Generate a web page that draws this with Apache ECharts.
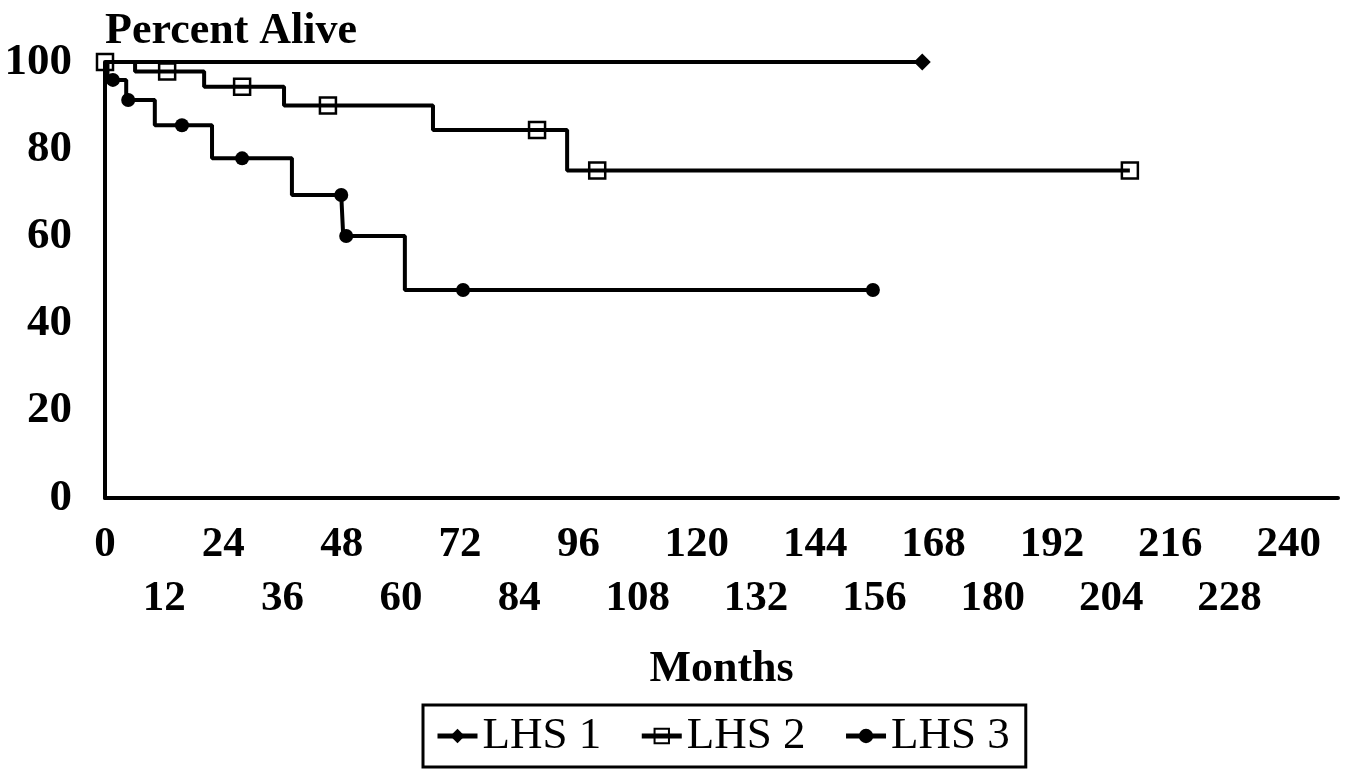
<!DOCTYPE html>
<html lang="en" style="height: 100%">
<head>
  <meta charset="utf-8">
</head>
<body style="height: 100%; margin: 0; background: #fff">
  <div id="container" style="width: 1347px; height: 771px"></div>

  <script type="text/javascript" src="https://fastly.jsdelivr.net/npm/echarts@6/dist/echarts.min.js"></script>
  <script type="text/javascript">
    var dom = document.getElementById('container');
    var myChart = echarts.init(dom, null, { renderer: 'canvas' });

    var seriesNames = ['LHS 1', 'LHS 2', 'LHS 3'];

    // [months, percent alive] at each event (drop)
    var lhs1Events = [[0, 100]];
    var lhs2Events = [[0, 100], [6.1, 97.8], [20.1, 94.3], [36.3, 90.0], [66.5, 84.4], [93.7, 75.1]];
    var lhs3Events = [[0, 100], [0.5, 95.9], [4.3, 91.3], [10.1, 85.5], [21.7, 77.9], [37.9, 69.5], [48.3, 60.1], [60.8, 47.7]];

    // censored observations (marked points)
    var lhs1Censored = [[165.7, 100]];
    var lhs2Censored = [[0, 100], [12.6, 97.8], [27.8, 94.3], [45.2, 90.0], [87.6, 84.4], [99.8, 75.1], [207.8, 75.1]];
    var lhs3Censored = [[1.6, 95.9], [4.7, 91.3], [15.6, 85.5], [27.8, 77.9], [47.9, 69.5], [48.9, 60.1], [72.6, 47.7], [155.7, 47.7]];

    var yTicks = [0, 20, 40, 60, 80, 100];

    var font = "'Liberation Serif', 'Times New Roman', serif";

    // merge events and censor marks into one step line; only censor marks get a symbol
    function buildData(events, censored) {
      var items = [];
      events.forEach(function (p) {
        items.push({ value: p, symbol: 'none', order: 0 });
      });
      censored.forEach(function (p) {
        items.push({ value: p, order: 1 });
      });
      items.sort(function (a, b) {
        return a.value[0] - b.value[0] || a.order - b.order;
      });
      return items.map(function (it) {
        var d = { value: it.value };
        if (it.symbol) d.symbol = it.symbol;
        return d;
      });
    }

    var lineStyle = { color: '#000', width: 4 };

    var option = {
      animation: false,
      backgroundColor: '#fff',
      legend: {
        left: 423,
        top: 705,
        orient: 'horizontal',
        padding: [6, 16, 6, 12],
        itemGap: 38,
        itemWidth: 40,
        itemHeight: 18,
        borderColor: '#000',
        borderWidth: 3,
        backgroundColor: '#fff',
        lineStyle: { width: 5 },
        textStyle: { fontFamily: font, fontSize: 45, color: '#000', lineHeight: 50 },
        data: seriesNames
      },
      grid: {
        left: 105,
        right: 9,
        top: 62,
        bottom: 273
      },
      xAxis: {
        type: 'value',
        min: 0,
        max: 250,
        interval: 12,
        name: 'Months',
        nameLocation: 'middle',
        nameGap: 172,
        nameTextStyle: {
          fontFamily: font, fontSize: 44, fontWeight: 'bold', color: '#000', verticalAlign: 'middle'
        },
        axisLine: { lineStyle: { color: '#000', width: 4 } },
        axisTick: { show: false },
        splitLine: { show: false },
        axisLabel: {
          margin: 20,
          fontFamily: font,
          fontSize: 43,
          fontWeight: 'bold',
          color: '#000',
          lineHeight: 54,
          formatter: function (v) {
            if (v % 24 === 0) return String(v);
            if (v % 12 === 0) return '\n' + v;
            return '';
          }
        }
      },
      yAxis: {
        type: 'value',
        min: yTicks[0],
        max: yTicks[yTicks.length - 1],
        interval: 20,
        name: 'Percent Alive',
        nameLocation: 'end',
        nameGap: 30,
        nameTextStyle: {
          fontFamily: font, fontSize: 44, fontWeight: 'bold', color: '#000',
          align: 'left', verticalAlign: 'middle'
        },
        axisLine: { show: true, lineStyle: { color: '#000', width: 4 } },
        axisTick: { show: false },
        splitLine: { show: false },
        axisLabel: {
          margin: 33,
          fontFamily: font,
          fontSize: 45,
          fontWeight: 'bold',
          color: '#000',
          padding: [8, 0, 0, 0]
        }
      },
      series: [
        {
          name: seriesNames[0],
          type: 'line',
          step: 'end',
          symbol: 'diamond',
          symbolSize: 17,
          itemStyle: { color: '#000' },
          lineStyle: lineStyle,
          data: buildData(lhs1Events, lhs1Censored)
        },
        {
          name: seriesNames[1],
          type: 'line',
          step: 'end',
          symbol: 'rect',
          symbolSize: 16,
          itemStyle: { color: 'rgba(0,0,0,0)', borderColor: '#000', borderWidth: 2.5 },
          lineStyle: lineStyle,
          data: buildData(lhs2Events, lhs2Censored)
        },
        {
          name: seriesNames[2],
          type: 'line',
          step: 'end',
          symbol: 'circle',
          symbolSize: 14,
          itemStyle: { color: '#000' },
          lineStyle: lineStyle,
          data: buildData(lhs3Events, lhs3Censored)
        }
      ]
    };

    myChart.setOption(option);
    window.addEventListener('resize', myChart.resize);
  </script>
</body>
</html>
